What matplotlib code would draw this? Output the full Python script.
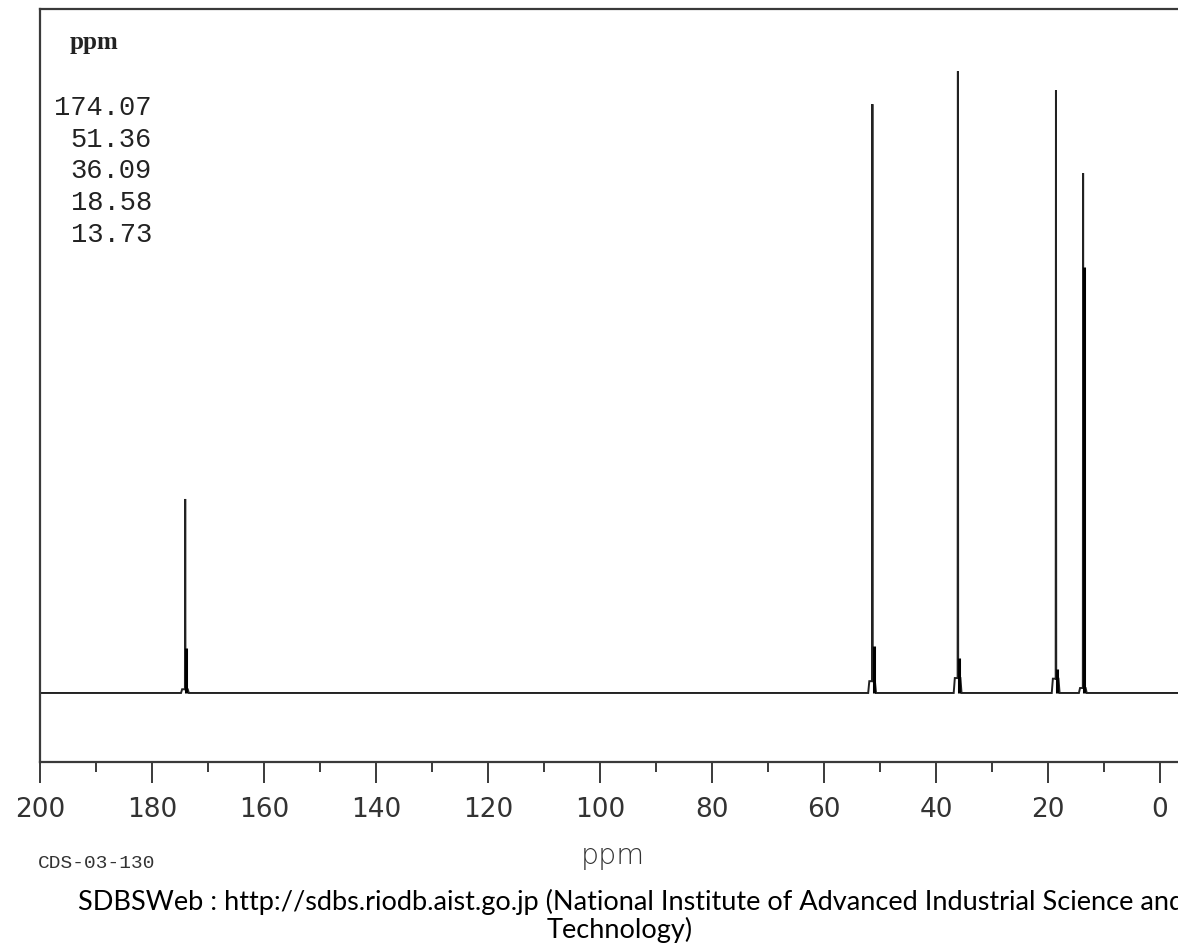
import matplotlib
matplotlib.use("Agg")
import matplotlib.pyplot as plt
import numpy as np

# ---- data ----
shifts = [174.07, 51.36, 36.09, 18.58, 13.73]
heights = [31.2, 94.7, 100.0, 96.9, 83.6]
shoulders = [7.2, 7.6, 5.6, 3.9, 68.5]
bumps = [0.6, 1.9, 2.4, 2.3, 0.8]
peak_labels = ["174.07", "51.36", "36.09", "18.58", "13.73"]
major_ticks = [200, 180, 160, 140, 120, 100, 80, 60, 40, 20, 0]

W, H = 1178, 951
fig = plt.figure(figsize=(W / 100, H / 100), dpi=100)

def fx(px):
    return px / W

def fy(py):
    return 1 - py / H

ax_left, ax_right, ax_top, ax_bottom = 40, 1200, 9, 762
ax = fig.add_axes([fx(ax_left), fy(ax_bottom), (ax_right - ax_left) / W, (ax_bottom - ax_top) / H])
ppm_per_px = 200 / (1160 - 40)
ax.set_xlim(200, 200 - (ax_right - ax_left) * ppm_per_px)
ax.set_ylim(-11.1, 110.0)

# spectrum path
xs = [200.0]
ys = [0.0]
for p, h, b in sorted(zip(shifts, heights, bumps), key=lambda t: -t[0]):
    xs += [p + 0.75, p + 0.55, p + 0.05, p, p - 0.05, p - 0.45, p - 0.65]
    ys += [0, b, b, h, b, b, 0]
xs.append(ax.get_xlim()[1])
ys.append(0.0)
ax.plot(xs, ys, color="#222222", lw=1.4, solid_joinstyle="miter")
ax.vlines([p - 0.2 for p in shifts], 0, shoulders, color="black", lw=2.2)

# axes styling
for s in ax.spines.values():
    s.set_color("#3a3a3a")
    s.set_linewidth(1.6)
ax.set_yticks([])
ax.set_xticks(major_ticks)
ax.set_xticks(np.arange(190, -1, -20), minor=True)
ax.tick_params(axis="x", which="major", direction="out", length=15, width=1.4,
               color="#3a3a3a", labelsize=19, labelcolor="#333333", pad=10)
ax.tick_params(axis="x", which="minor", direction="out", length=7.5, width=1.4,
               color="#3a3a3a")
ax.set_xticklabels([str(t) for t in major_ticks])

# texts
fig.text(fx(70), fy(49), "ppm", family="Liberation Serif", weight="bold",
         fontsize=18, color="#222222", ha="left", va="baseline")
for i, lab in enumerate(peak_labels):
    fig.text(fx(152), fy(115 + i * 31.7), lab, family="Liberation Mono",
             fontsize=19.5, color="#222222", ha="right", va="baseline")

fig.text(fx(613), fy(864), "ppm", family="DejaVu Sans", fontsize=20.5,
         color="#333333", ha="center", va="baseline", fontweight="light")
fig.text(fx(38), fy(868), "CDS-03-130", family="Liberation Mono", fontsize=14,
         color="#333333", ha="left", va="baseline")
fig.text(fx(78), fy(910),
         "SDBSWeb : http://sdbs.riodb.aist.go.jp (National Institute of Advanced Industrial Science and",
         family="Lato", fontsize=19.5, color="black", ha="left", va="baseline")
fig.text(fx(620), fy(938), "Technology)", family="Lato", fontsize=19.5,
         color="black", ha="center", va="baseline")

fig.savefig("out.png", dpi=100)
